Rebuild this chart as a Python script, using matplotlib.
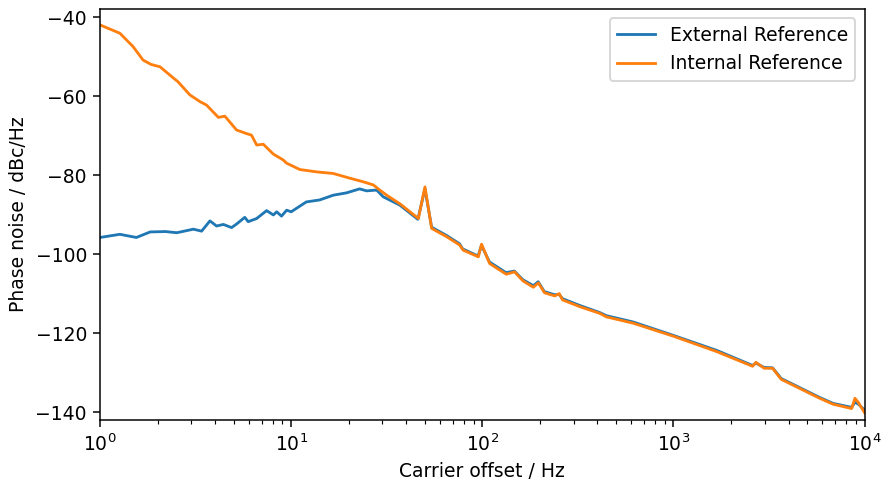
import numpy as np
from matplotlib import pyplot as plt

# Datos (frecuencia en Hz, ruido de fase en dBc/Hz)
f_ext = [1.0, 1.27, 1.55, 1.83, 2.2, 2.52, 3.08, 3.4, 3.76, 4.07, 4.42, 4.88, 5.18,
         5.72, 5.96, 6.6, 7.44, 8.07, 8.4, 8.9, 9.47, 10.0, 12.0, 14.1, 16.6, 19.5,
         22.8, 24.8, 28.0, 30.3, 37.0, 46.0, 50.1, 54.3, 65.0, 76.0, 79.0, 95.0, 99.0,
         109, 133, 147, 163, 185, 196, 211, 239, 252, 263, 323, 411, 446, 616, 1001,
         1686, 2593, 2700, 2980, 3300, 3660, 4570, 5820, 6840, 8550, 8900, 9280, 10000]
pn_ext = [-95.8, -95.0, -95.8, -94.4, -94.3, -94.6, -93.7, -94.2, -91.6, -92.9, -92.5,
          -93.3, -92.4, -90.7, -91.8, -91.0, -89.0, -90.1, -89.3, -90.4, -88.9, -89.3,
          -86.8, -86.3, -85.1, -84.5, -83.5, -84.0, -83.8, -85.5, -87.6, -91.2, -83.5,
          -93.2, -95.3, -97.4, -98.7, -100.5, -97.8, -102.0, -104.7, -104.3, -106.5,
          -108.0, -107.0, -109.5, -110.3, -110.2, -111.3, -113.0, -114.8, -115.6,
          -117.2, -120.6, -124.4, -128.2, -127.6, -128.7, -128.8, -131.5, -133.8,
          -136.3, -137.8, -138.8, -137.5, -138.0, -139.5]

f_int = [1.0, 1.27, 1.49, 1.68, 1.85, 2.06, 2.32, 2.56, 2.95, 3.33, 3.61, 4.16, 4.5,
         5.18, 5.84, 6.2, 6.6, 7.15, 8.07, 9.1, 9.47, 11.1, 13.6, 16.6, 20.3, 23.8,
         26.9, 29.1, 31.6, 37.1, 46.3, 50.1, 54.3, 65.0, 76.1, 79.3, 95.3, 99.1, 109.2,
         133.4, 147.4, 163.3, 184.8, 196.4, 211.5, 239.4, 252.3, 262.8, 322.8, 411, 446,
         616, 1001, 1686, 2593, 2700, 2980, 3300, 3660, 4570, 5820, 6840, 8550, 8900,
         9280, 10000]
pn_int = [-42.0, -44.1, -47.5, -50.9, -52.0, -52.6, -54.7, -56.4, -59.7, -61.4, -62.3,
          -65.4, -65.1, -68.6, -69.5, -69.9, -72.4, -72.2, -74.7, -76.2, -77.0, -78.6,
          -79.2, -79.6, -80.8, -81.7, -82.5, -83.8, -85.1, -87.3, -91.0, -83.0, -93.5,
          -95.6, -97.7, -99.0, -100.7, -97.5, -102.4, -105.1, -104.5, -106.8, -108.4,
          -107.3, -109.8, -110.6, -110.0, -111.6, -113.3, -115.0, -115.9, -117.5,
          -120.8, -124.7, -128.4, -127.4, -128.9, -128.9, -131.7, -134.0, -136.5,
          -138.0, -139.1, -136.5, -137.6, -140.2]

dpi = 135
fig = plt.figure(figsize=(885 / dpi, 480 / dpi), dpi=dpi)
ax = fig.add_axes([0.113, 0.125, 0.864, 0.856])
ax.semilogx(f_ext, pn_ext, color='#1f77b4', label='External Reference')
ax.semilogx(f_int, pn_int, color='#ff7f0e', label='Internal Reference')
ax.set_xlim(1, 1e4)
ax.set_ylim(-142, -38)
ax.set_xlabel('Carrier offset / Hz')
ax.set_ylabel('Phase noise / dBc/Hz')
ax.legend(loc='upper right')
fig.savefig('out.png', dpi=dpi)
